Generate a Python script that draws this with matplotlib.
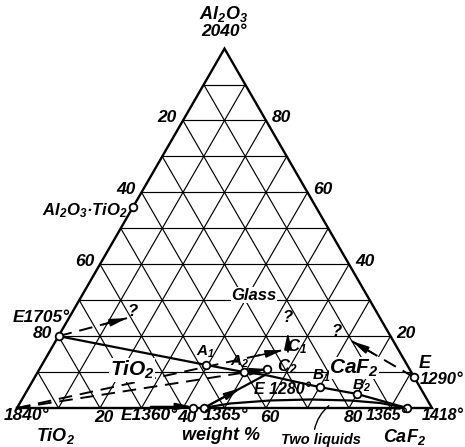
import numpy as np
import matplotlib
matplotlib.use('Agg')
import matplotlib.pyplot as plt

plt.rcParams['font.family'] = ['Liberation Sans', 'DejaVu Sans']
plt.rcParams['font.weight'] = 'bold'
plt.rcParams['font.style'] = 'italic'
plt.rcParams['mathtext.fontset'] = 'custom'
plt.rcParams['mathtext.rm'] = 'Liberation Sans:italic:bold'
plt.rcParams['mathtext.it'] = 'Liberation Sans:italic:bold'
plt.rcParams['mathtext.bf'] = 'Liberation Sans:italic:bold'

# ---------------- data (weight fractions: Al2O3, CaF2; TiO2 = rest) -------------
grid_steps = [0.1, 0.2, 0.3, 0.4, 0.5, 0.6, 0.7, 0.8, 0.9]
tick_values = [20, 40, 60, 80]

# invariant / marked points (open circles)
point_names = ['Al2O3.TiO2', 'E1705', 'E1290', 'E1360', '1365a', '1365b',
               'A1', 'A2', 'B1', 'B2', 'C2']
point_al2o3 = [0.56, 0.20, 0.085, 0.0, 0.0, 0.0, 0.12, 0.10, 0.058, 0.039, 0.1085]
point_caf2 = [0.0, 0.0, 0.915, 0.425, 0.45, 0.94, 0.395, 0.497, 0.701, 0.80, 0.548]

# boundary curve E1705 -> A1 -> A2 -> E1280
curve1_al2o3 = [0.20, 0.12, 0.10, 0.092]
curve1_caf2 = [0.0, 0.395, 0.497, 0.552]
# boundary curve E1280 -> B1 -> B2 -> 1365 (CaF2 side)
curve2_al2o3 = [0.092, 0.058, 0.039, 0.0]
curve2_caf2 = [0.552, 0.701, 0.80, 0.94]
# boundary from binary eutectic (bottom) to E1280
curve3_al2o3 = [0.0, 0.092]
curve3_caf2 = [0.45, 0.552]
# two-liquid dome
dome_al2o3 = [0.0, 0.0125, 0.0209, 0.0237, 0.0209, 0.0139, 0.0]
dome_caf2 = [0.448, 0.507, 0.599, 0.694, 0.792, 0.868, 0.94]

# dashed arrows: (start Al2O3, start CaF2, end Al2O3, end CaF2)
dash_start_al2o3 = [0.20, 0.085, 0.0, 0.0]
dash_start_caf2 = [0.0, 0.915, 0.0, 0.0]
dash_end_al2o3 = [0.25, 0.186, 0.161, 0.1085]
dash_end_caf2 = [0.14, 0.714, 0.56, 0.548]

# solid arrow from C1 upward
arrow_c1_al2o3 = [0.156, 0.211]
arrow_c1_caf2 = [0.575, 0.547]
# short arrow along bottom edge to binary eutectic
arrow_bottom_al2o3 = [0.004, 0.004]
arrow_bottom_caf2 = [0.32, 0.42]

S3 = np.sqrt(3) / 2


def xy(a, c):
    a = np.asarray(a, float)
    c = np.asarray(c, float)
    return c + a / 2, a * S3


def px(x, y):
    return (x - 17) / 415, (408 - y) / 415


fig = plt.figure(figsize=(4.65, 4.47), dpi=100)
ax = fig.add_axes([0, 0, 1, 1])
ax.set_xlim(-17 / 415, 448 / 415)
ax.set_ylim(-39 / 415, 408 / 415)
ax.axis('off')

# grid
for g in grid_steps:
    x, y = xy([g, g], [0, 1 - g])
    ax.plot(x, y, color='black', lw=0.85, zorder=1)
    x, y = xy([0, 1 - g], [g, g])
    ax.plot(x, y, color='black', lw=0.85, zorder=1)
    x, y = xy([0, 1 - g], [1 - g, 0])
    ax.plot(x, y, color='black', lw=0.85, zorder=1)

# border
x, y = xy([0, 0, 1, 0], [0, 1, 0, 0])
ax.plot(x, y, color='black', lw=1.7, zorder=2, solid_joinstyle='miter')

# boundary curves
for aa, cc in [(curve1_al2o3, curve1_caf2), (curve2_al2o3, curve2_caf2),
               (curve3_al2o3, curve3_caf2), (dome_al2o3, dome_caf2)]:
    x, y = xy(aa, cc)
    ax.plot(x, y, color='black', lw=1.6, zorder=3)

head = dict(arrowstyle='-|>,head_length=1.0,head_width=0.22', color='black',
            lw=1.2, shrinkA=0, shrinkB=0)

# dashed arrows
for a0, c0, a1, c1 in zip(dash_start_al2o3, dash_start_caf2, dash_end_al2o3, dash_end_caf2):
    x, y = xy([a0, a1], [c0, c1])
    ax.plot(x, y, color='black', lw=1.4, ls=(0, (7, 4)), zorder=3)
    d = np.hypot(x[1] - x[0], y[1] - y[0])
    xh = x[1] - 0.06 * (x[1] - x[0]) / d
    yh = y[1] - 0.06 * (y[1] - y[0]) / d
    ax.annotate('', xy=(x[1], y[1]), xytext=(xh, yh), arrowprops=head, zorder=4)

# solid arrow on curve3 (head in the middle)
x, y = xy(curve3_al2o3, curve3_caf2)
ax.annotate('', xy=(x[0] + 0.6 * (x[1] - x[0]), y[0] + 0.6 * (y[1] - y[0])),
            xytext=(x[0], y[0]), arrowprops=head, zorder=4)
# solid arrow up from C1
x, y = xy(arrow_c1_al2o3, arrow_c1_caf2)
ax.annotate('', xy=(x[1], y[1]), xytext=(x[0], y[0]), arrowprops=head, zorder=4)
# bottom arrow
x, y = xy(arrow_bottom_al2o3, arrow_bottom_caf2)
ax.annotate('', xy=(x[1], y[1]), xytext=(x[0], y[0]), arrowprops=head, zorder=4)

# points
x, y = xy(point_al2o3, point_caf2)
ax.plot(x, y, 'o', ms=5.5, mfc='white', mec='black', mew=1.3, zorder=5, ls='none')

# tick labels
for v in tick_values:
    f = v / 100
    x, y = xy([1 - f], [0])
    ax.text(x[0] - 6 / 415, y[0] + 3 / 415, str(v), ha='right', va='center', fontsize=12.5)
    x, y = xy([f], [1 - f])
    ax.text(x[0] + 6 / 415, y[0] + 3 / 415, str(v), ha='left', va='center', fontsize=12.5)
    x, y = xy([0], [f])
    ax.text(x[0] + 4 / 415, y[0] - 2 / 415, str(v), ha='center', va='top', fontsize=12.5)

# other texts (pixel positions): text, x, y, size, white background, alignment
texts = [
    ('Al$_2$O$_3$', 224, 14, 13, False, 'center'),
    ('2040°', 224, 32, 12.5, False, 'center'),
    ('Al$_2$O$_3$·TiO$_2$', 85, 211, 12, False, 'center'),
    ('E1705°', 41, 318, 12.5, False, 'center'),
    ('1840°', 26, 416, 12.5, False, 'center'),
    ('TiO$_2$', 56, 436, 13, False, 'center'),
    ('E1360°', 149, 416, 12.5, False, 'center'),
    ('1365°', 225, 416, 12.5, False, 'center'),
    ('weight %', 221, 436, 13, False, 'center'),
    ('Two liquids', 321, 440, 10.5, False, 'center'),
    ('1365°', 387, 416, 11.5, False, 'center'),
    ('1418°', 464, 416, 11.5, False, 'right'),
    ('CaF$_2$', 405, 437, 13, False, 'center'),
    ('E', 425, 364, 13, False, 'center'),
    ('1290°', 463, 380, 12, False, 'right'),
    ('Glass', 254, 295, 12, True, 'center'),
    ('?', 133, 312, 12, False, 'center'),
    ('?', 288, 317, 12, False, 'center'),
    ('?', 337, 332, 12, False, 'center'),
    ('C$_1$', 297, 347, 12, False, 'center'),
    ('C$_2$', 287, 367, 12, False, 'center'),
    ('A$_1$', 205, 352, 11, False, 'center'),
    ('A$_2$', 240, 362, 11, False, 'center'),
    ('B$_1$', 321, 376, 11, False, 'center'),
    ('B$_2$', 361, 386, 11, False, 'center'),
    ('E 1280°', 282, 390, 11.5, False, 'center'),
    ('TiO$_2$', 132, 370, 15, True, 'center'),
    ('CaF$_2$', 354, 368, 15, True, 'center'),
]
for s, tx, ty, fs, bg, ha in texts:
    X, Y = px(tx, ty)
    kw = {}
    if bg:
        kw['bbox'] = dict(facecolor='white', edgecolor='none', pad=0.5)
    ax.text(X, Y, s, ha=ha, va='center', fontsize=fs, zorder=6, **kw)

# leader line for "Two liquids"
ax.annotate('', xy=px(331, 404), xytext=px(314, 432),
            arrowprops=dict(arrowstyle='-', color='black', lw=1.0,
                            connectionstyle='arc3,rad=-0.2'))

fig.savefig('out.png', dpi=100)
